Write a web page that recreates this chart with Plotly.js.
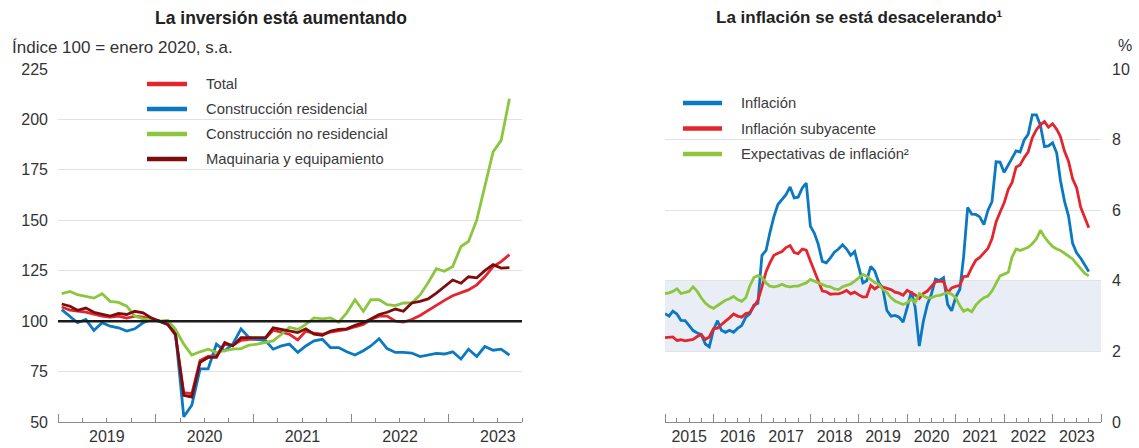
<!DOCTYPE html>
<html>
<head>
<meta charset="utf-8">
<script src="https://cdn.plot.ly/plotly-3.0.1.min.js"></script>
<style>html,body{margin:0;padding:0;background:#fff;}#chart{width:1139px;height:448px;}</style>
</head>
<body>
<div id="chart"></div>
<script>
// ---------- Left panel: investment index (Jan 2020 = 100, s.a.), monthly Jan 2019 - Aug 2023
const invStart = [2019, 1];
const invTotal = [107, 105.5, 105, 104.5, 103.5, 102.5, 102, 102.5, 101.5, 102.5, 102, 101,
  100, 98.5, 93, 64.5, 64, 80.5, 82.5, 83, 88.5, 88, 90.5, 91,
  91, 91.5, 95.5, 94.5, 93.5, 90.7, 95.1, 94, 93.5, 94.6, 95.1, 95.9,
  97.2, 98.4, 100.8, 102.5, 102.5, 100, 99.5, 100.8, 102.8, 105.4, 107.7, 110.3,
  112.6, 114.2, 115.5, 118, 122, 127, 129.5, 133];
const invResid = [105.7, 102.5, 99.2, 100.8, 95.4, 99.2, 97.5, 96.7, 95.1, 96.2, 99.2, 100.8,
  100, 98.4, 94.3, 52.6, 58.3, 76.3, 76.3, 88.6, 85.3, 88.6, 96.2, 91.8,
  91, 90.2, 86.1, 87.7, 88.6, 84.5, 87.7, 90.2, 91, 86.9, 86.9, 84.8,
  83.2, 85.3, 87.7, 91.3, 86.4, 84.5, 84.5, 84.2, 82.4, 83.2, 84, 83.7,
  84.8, 81.2, 86.1, 82.5, 87.4, 85.6, 86.1, 83.2];
const invNonResid = [113.6, 114.7, 113.1, 112.3, 111.4, 113.6, 109.8, 109.3, 107.4, 102.5, 101.1, 100.8,
  100, 100.5, 95.9, 88.6, 83.2, 84.8, 86.1, 84.5, 85.3, 86.1, 86.4, 88.1,
  88.6, 89.4, 90.2, 93.5, 97, 95.9, 98.4, 101.6, 101.1, 101.6, 99.5, 104.1,
  110.6, 104.9, 110.6, 110.6, 108.2, 107.7, 109, 109, 113, 119, 126, 124.7,
  127.1, 137, 139.5, 150.2, 166.6, 183.9, 189.6, 210.2];
const invMach = [108.5, 107.4, 105.4, 106.5, 104.4, 103.3, 102.5, 103.8, 103.3, 104.9, 104.1, 101.6,
  100, 98.4, 93.5, 63.2, 62.4, 79.6, 82, 82, 89.4, 87.7, 91.8, 91.8,
  91.8, 91.8, 96.7, 95.9, 95.1, 94.3, 96.2, 93.5, 93, 95.1, 95.9, 96.2,
  97.9, 99.2, 101.1, 103.3, 104.4, 106, 104.9, 109, 109.8, 111, 113.9, 117.2,
  120.4, 118.8, 122, 121.5, 125, 128, 126.3, 126.5];
const invNames = ['Total', 'Construcción residencial', 'Construcción no residencial', 'Maquinaria y equipamiento'];
const invLeftTicks = ['225', '200', '175', '150', '125', '100', '75', '50'];
const invBase = 100;

// ---------- Right panel: inflation (%), monthly Jan 2015 - Oct 2023
const infStart = [2015, 1];
const inflation = [3.07, 3.00, 3.14, 3.06, 2.88, 2.87, 2.74, 2.59, 2.52, 2.48, 2.21, 2.13,
  2.61, 2.87, 2.60, 2.54, 2.60, 2.54, 2.65, 2.73, 2.97, 3.06, 3.31, 3.36,
  4.72, 4.86, 5.35, 5.82, 6.16, 6.31, 6.44, 6.66, 6.35, 6.37, 6.63, 6.77,
  5.55, 5.34, 5.04, 4.55, 4.51, 4.65, 4.81, 4.90, 5.02, 4.90, 4.72, 4.83,
  4.37, 3.94, 4.00, 4.41, 4.28, 3.95, 3.78, 3.16, 3.00, 3.02, 2.97, 2.83,
  3.24, 3.70, 3.25, 2.15, 2.84, 3.33, 3.62, 4.05, 4.01, 4.09, 3.33, 3.15,
  3.54, 3.76, 4.67, 6.08, 5.89, 5.88, 5.81, 5.59, 6.00, 6.24, 7.37, 7.36,
  7.07, 7.28, 7.45, 7.68, 7.65, 7.99, 8.15, 8.70, 8.70, 8.41, 7.80, 7.82,
  7.91, 7.62, 6.85, 6.25, 5.84, 5.06, 4.79, 4.64, 4.45, 4.26];
const coreInflation = [2.39, 2.39, 2.41, 2.31, 2.33, 2.30, 2.31, 2.34, 2.42, 2.47, 2.34, 2.41,
  2.64, 2.66, 2.76, 2.85, 2.95, 3.06, 3.00, 2.97, 3.07, 3.10, 3.29, 3.44,
  3.83, 4.26, 4.50, 4.72, 4.78, 4.83, 4.94, 5.00, 4.80, 4.77, 4.90, 4.87,
  4.56, 4.27, 4.02, 3.71, 3.69, 3.62, 3.63, 3.63, 3.67, 3.73, 3.63, 3.68,
  3.60, 3.54, 3.55, 3.87, 3.77, 3.85, 3.82, 3.78, 3.75, 3.68, 3.65, 3.59,
  3.73, 3.66, 3.60, 3.50, 3.64, 3.71, 3.85, 3.97, 3.99, 3.98, 3.66, 3.80,
  3.84, 3.87, 4.12, 4.13, 4.37, 4.58, 4.66, 4.78, 4.92, 5.19, 5.67, 5.94,
  6.21, 6.59, 6.78, 7.22, 7.28, 7.49, 7.65, 8.05, 8.28, 8.42, 8.51, 8.35,
  8.45, 8.29, 8.09, 7.67, 7.39, 6.89, 6.64, 6.08, 5.76, 5.50];
const expectations = [3.64, 3.66, 3.70, 3.77, 3.64, 3.68, 3.70, 3.83, 3.70, 3.52, 3.37, 3.28,
  3.22, 3.30, 3.37, 3.45, 3.49, 3.56, 3.47, 3.42, 3.52, 3.85, 4.09, 4.15,
  4.09, 3.94, 3.85, 3.83, 3.85, 3.90, 3.85, 3.83, 3.85, 3.85, 3.90, 3.94,
  4.04, 3.99, 3.94, 3.90, 3.85, 3.83, 3.77, 3.75, 3.83, 3.87, 3.91, 3.99,
  4.09, 4.18, 4.13, 4.04, 3.95, 3.90, 3.76, 3.67, 3.52, 3.43, 3.38, 3.33,
  3.38, 3.48, 3.38, 3.64, 3.57, 3.52, 3.52, 3.57, 3.59, 3.64, 3.67, 3.62,
  3.52, 3.29, 3.14, 3.19, 3.12, 3.31, 3.43, 3.52, 3.57, 3.71, 3.95, 4.14,
  4.19, 4.24, 4.67, 4.90, 4.86, 4.90, 4.95, 5.05, 5.19, 5.43, 5.24, 5.10,
  4.97, 4.90, 4.86, 4.78, 4.71, 4.62, 4.48, 4.33, 4.21, 4.14];
const infNames = ['Inflación', 'Inflación subyacente', 'Expectativas de inflación²'];
const targetBand = [2, 4];

// ---------- helpers
function monthDates(start, n, day) {
  const out = [];
  for (let i = 0; i < n; i++) {
    const k = start[1] - 1 + i;
    const y = start[0] + Math.floor(k / 12);
    const m = (k % 12) + 1;
    out.push(y + '-' + String(m).padStart(2, '0') + '-' + day);
  }
  return out;
}
const W = 1139, H = 448;
const px = x => x / W;
const py = y => 1 - y / H;

const invX = monthDates(invStart, invTotal.length, '15');
const infX = monthDates(infStart, inflation.length, '01');

const C = {red: '#e3262d', blue: '#0b78c2', green: '#8cc63e', dark: '#7d0c0c'};
const LW = 2.8;

const invSeries = [invTotal, invResid, invNonResid, invMach];
const invColors = [C.red, C.blue, C.green, C.dark];
const infSeries = [inflation, coreInflation, expectations];
const infColors = [C.blue, C.red, C.green];

const traces = invSeries.map((s, i) => ({
  type: 'scatter', mode: 'lines', x: invX, y: s, name: invNames[i],
  line: {color: invColors[i], width: LW}, xaxis: 'x', yaxis: 'y', hoverinfo: 'skip', showlegend: false
}));
const traces2 = infSeries.map((s, i) => ({
  type: 'scatter', mode: 'lines', x: infX, y: s, name: infNames[i],
  line: {color: infColors[i], width: LW}, xaxis: 'x2', yaxis: 'y2', hoverinfo: 'skip', showlegend: false
}));

const tickFont = {size: 16, color: '#333'};
const xCommon = {
  type: 'date', dtick: 'M12', ticklabelmode: 'period', tickformat: '%Y',
  ticks: 'inside', ticklen: 8, tickwidth: 1, tickcolor: '#8a8a8a',
  showline: true, linecolor: '#8a8a8a', linewidth: 1, showgrid: false, zeroline: false,
  minor: {dtick: 'M3', ticks: 'inside', ticklen: 4, tickwidth: 1, tickcolor: '#8a8a8a', showgrid: false},
  tickfont: tickFont, fixedrange: true
};
const yDomain = [py(422), py(69)];

// legend (drawn as paper-space keys + text)
const legFont = {size: 14.8, color: '#3a3a3a'};
const legendShapes = [];
const legendAnn = [];
const leftRows = [84, 109, 134, 159];
invNames.forEach((n, i) => {
  legendShapes.push({type: 'line', xref: 'paper', yref: 'paper', x0: px(147), x1: px(187), y0: py(leftRows[i]), y1: py(leftRows[i]),
    line: {color: invColors[i], width: 4.5}, layer: 'above'});
  legendAnn.push({text: n, xref: 'paper', yref: 'paper', x: px(204), y: py(leftRows[i]), xanchor: 'left', yanchor: 'middle',
    showarrow: false, font: legFont});
});
const rightRows = [103, 128.5, 154];
infNames.forEach((n, i) => {
  legendShapes.push({type: 'line', xref: 'paper', yref: 'paper', x0: px(683), x1: px(722), y0: py(rightRows[i]), y1: py(rightRows[i]),
    line: {color: infColors[i], width: 4.5}, layer: 'above'});
  legendAnn.push({text: n, xref: 'paper', yref: 'paper', x: px(739), y: py(rightRows[i]), xanchor: 'left', yanchor: 'middle',
    showarrow: false, font: legFont});
});

const layout = {
  width: W, height: H,
  margin: {l: 0, r: 0, t: 0, b: 0},
  paper_bgcolor: '#fff', plot_bgcolor: 'rgba(0,0,0,0)',
  font: {family: '"Liberation Sans", Arial, sans-serif', color: '#333', size: 15},
  showlegend: false,
  xaxis: Object.assign({}, xCommon, {domain: [px(58), px(522)], range: ['2019-01-01', '2023-10-01'], tick0: '2019-01-01', anchor: 'y'}),
  yaxis: {domain: yDomain, range: [50, 225], tickvals: invLeftTicks.map(Number), ticktext: invLeftTicks,
    showgrid: true, gridcolor: '#e2e2e2', gridwidth: 1, zeroline: false, showline: false, ticks: '',
    ticklabelstandoff: 9, tickfont: tickFont, anchor: 'x', fixedrange: true},
  xaxis2: Object.assign({}, xCommon, {domain: [px(665), px(1101)], range: ['2015-01-01', '2024-01-01'], tick0: '2015-01-01', anchor: 'y2'}),
  yaxis2: {domain: yDomain, range: [0, 10], tick0: 0, dtick: 2, side: 'right',
    showgrid: true, gridcolor: '#e2e2e2', gridwidth: 1, zeroline: false, showline: false, ticks: '',
    ticklabelstandoff: 10, tickfont: tickFont, anchor: 'x2', fixedrange: true},
  shapes: [
    {type: 'rect', xref: 'x2 domain', x0: 0, x1: 1, yref: 'y2', y0: targetBand[0], y1: targetBand[1],
      fillcolor: '#e9edf5', line: {width: 0}, layer: 'below'},
    {type: 'line', xref: 'x domain', x0: 0, x1: 1, yref: 'y', y0: invBase, y1: invBase,
      line: {color: '#1a1a1a', width: 2.5}, layer: 'above'}
  ].concat(legendShapes),
  annotations: [
    {text: '<b>La inversión está aumentando</b>', xref: 'paper', yref: 'paper', x: px(281), y: py(18),
      xanchor: 'center', yanchor: 'middle', showarrow: false, font: {size: 17.5, color: '#222'}},
    {text: '<b>La inflación se está desacelerando¹</b>', xref: 'paper', yref: 'paper', x: px(859), y: py(18),
      xanchor: 'center', yanchor: 'middle', showarrow: false, font: {size: 17, color: '#222'}},
    {text: 'Índice 100 = enero 2020, s.a.', xref: 'paper', yref: 'paper', x: px(10), y: py(47),
      xanchor: 'left', yanchor: 'middle', showarrow: false, font: {size: 17, color: '#333'}},
    {text: '%', xref: 'paper', yref: 'paper', x: px(1125), y: py(45),
      xanchor: 'center', yanchor: 'middle', showarrow: false, font: {size: 16, color: '#333'}}
  ].concat(legendAnn)
};

Plotly.newPlot('chart', traces.concat(traces2), layout, {displayModeBar: false, staticPlot: true});
</script>
</body>
</html>
